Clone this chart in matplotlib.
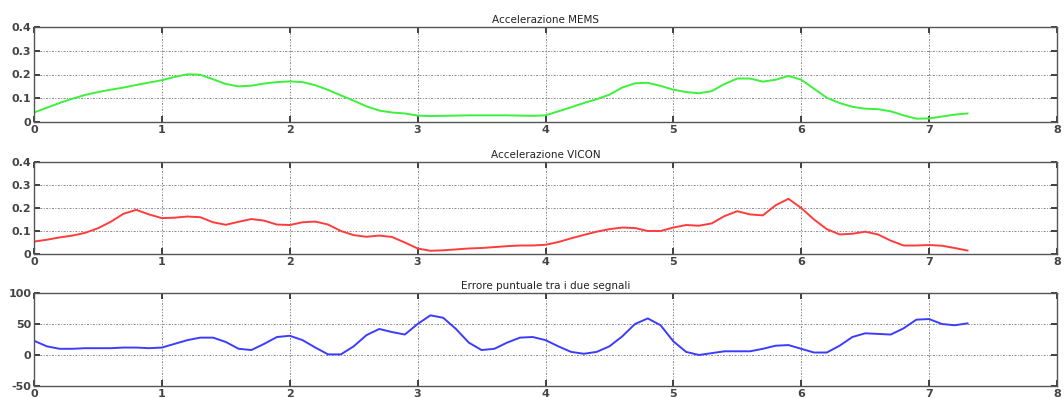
import numpy as np
import matplotlib
matplotlib.use("Agg")
import matplotlib.pyplot as plt

# time axis [s], sampled every 0.1 s
t = np.round(np.arange(0, 7.31, 0.1), 2)

mems = [0.040, 0.060, 0.080, 0.098, 0.114, 0.126, 0.136, 0.145, 0.156, 0.166,
        0.176, 0.190, 0.201, 0.199, 0.180, 0.160, 0.150, 0.153, 0.162, 0.168,
        0.171, 0.168, 0.155, 0.135, 0.112, 0.090, 0.066, 0.048, 0.040, 0.036,
        0.027, 0.025, 0.026, 0.027, 0.028, 0.028, 0.028, 0.028, 0.027, 0.026,
        0.028, 0.045, 0.062, 0.080, 0.096, 0.115, 0.145, 0.163, 0.165, 0.152,
        0.136, 0.126, 0.121, 0.130, 0.160, 0.183, 0.183, 0.170, 0.178, 0.194,
        0.178, 0.140, 0.102, 0.080, 0.064, 0.056, 0.054, 0.045, 0.028, 0.014,
        0.015, 0.023, 0.031, 0.036]

vicon = [0.054, 0.062, 0.072, 0.080, 0.092, 0.112, 0.140, 0.175, 0.192, 0.172,
         0.156, 0.158, 0.163, 0.160, 0.138, 0.127, 0.140, 0.152, 0.145, 0.128,
         0.126, 0.138, 0.141, 0.128, 0.100, 0.082, 0.075, 0.080, 0.074, 0.050,
         0.024, 0.014, 0.016, 0.020, 0.024, 0.026, 0.030, 0.034, 0.037, 0.037,
         0.040, 0.052, 0.068, 0.083, 0.097, 0.108, 0.115, 0.113, 0.100, 0.100,
         0.115, 0.126, 0.123, 0.133, 0.165, 0.186, 0.172, 0.168, 0.212, 0.240,
         0.200, 0.150, 0.108, 0.085, 0.088, 0.097, 0.085, 0.058, 0.037, 0.037,
         0.039, 0.036, 0.026, 0.015]

errore = [23, 14, 10, 10, 11, 11, 11, 12, 12, 11,
          12, 18, 24, 28, 28, 21, 10, 8, 18, 29,
          31, 24, 12, 1, 1, 14, 32, 42, 37, 33,
          50, 64, 60, 42, 20, 8, 10, 20, 28, 29,
          24, 14, 5, 2, 5, 14, 30, 50, 59, 48,
          22, 5, 0, 3, 6, 6, 6, 10, 15, 16,
          10, 4, 4, 15, 29, 35, 34, 33, 43, 57,
          58, 50, 48, 51]

titles = ["Accelerazione MEMS", "Accelerazione VICON",
          "Errore puntuale tra i due segnali"]
colors = ["#3cf03c", "#ff3c3c", "#3c3cff"]
x_ticks = [0, 1, 2, 3, 4, 5, 6, 7, 8]
acc_ticks = [0, 0.1, 0.2, 0.3, 0.4]
acc_labels = ["0", "0.1", "0.2", "0.3", "0.4"]
err_ticks = [-50, 0, 50, 100]
err_labels = ["-50", "0", "50", "100"]

fig = plt.figure(figsize=(10.64, 3.98), dpi=100)
W, H = 1064, 398
left, right = 34, 1057
boxes = [(27, 122), (162, 254), (293, 386)]

series = [mems, vicon, errore]
for i, (top, bot) in enumerate(boxes):
    ax = fig.add_axes([left / W, 1 - bot / H, (right - left) / W, (bot - top) / H])
    ax.plot(t, series[i], color=colors[i], lw=1.4, solid_joinstyle="round")
    ax.set_xlim(0, 8)
    ax.set_xticks(x_ticks)
    ax.set_xticklabels([str(v) for v in x_ticks])
    if i < 2:
        ax.set_ylim(0, 0.4)
        ax.set_yticks(acc_ticks)
        ax.set_yticklabels(acc_labels)
    else:
        ax.set_ylim(-50, 100)
        ax.set_yticks(err_ticks)
        ax.set_yticklabels(err_labels)
    ax.grid(True, color="#888888", linestyle=(0, (2, 1.5, 1, 1.5)), linewidth=0.7)
    ax.tick_params(direction="in", top=True, right=True, length=4, width=1.3,
                   labelsize=8, pad=2, colors="#333333")
    for lab in ax.get_xticklabels() + ax.get_yticklabels():
        lab.set_fontweight("bold")
        lab.set_color("#444444")
    for s in ax.spines.values():
        s.set_color("#555555")
        s.set_linewidth(1.0)
    ax.set_title(titles[i], fontsize=7.5, pad=3, color="#222222")

fig.savefig("out.png", dpi=100)
